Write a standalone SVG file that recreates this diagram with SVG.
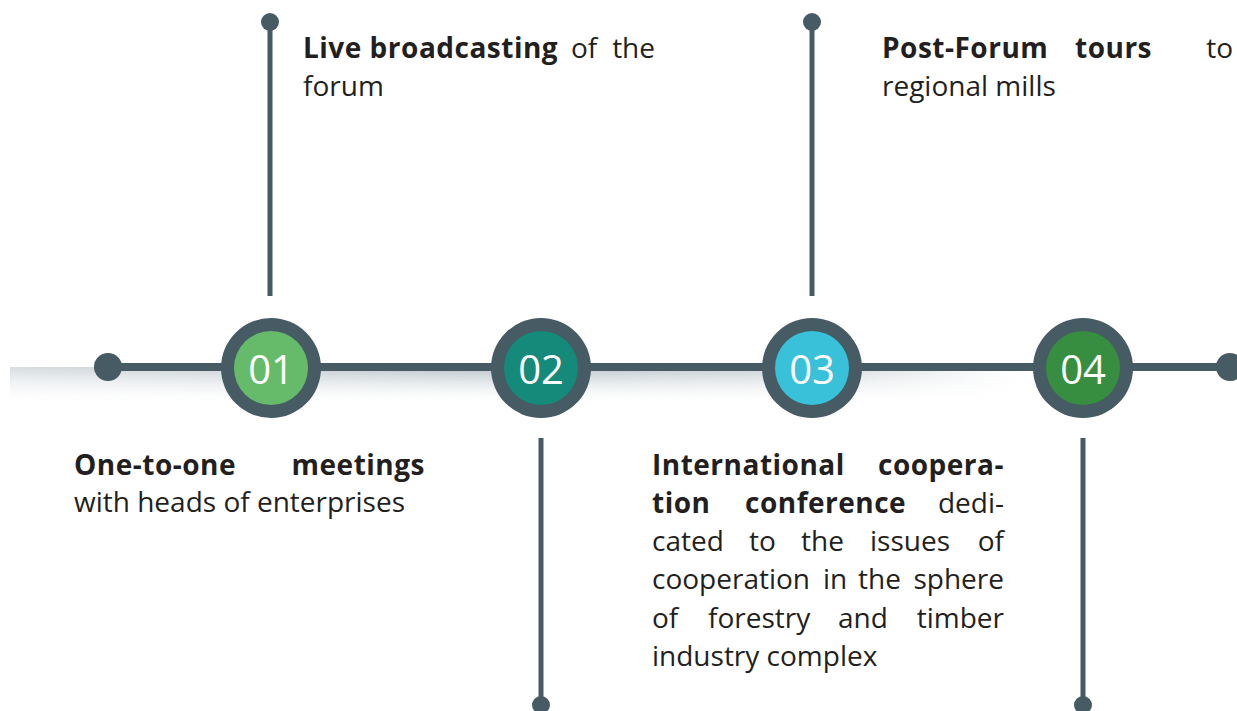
<svg xmlns="http://www.w3.org/2000/svg" width="1237" height="711" viewBox="0 0 1237 711">
<defs>
<linearGradient id="shV" x1="0" y1="0" x2="0" y2="1">
<stop offset="0" stop-color="#b3bdc3" stop-opacity="0.95"/>
<stop offset="0.5" stop-color="#dde2e5" stop-opacity="0.6"/>
<stop offset="1" stop-color="#ffffff" stop-opacity="0"/>
</linearGradient>
<linearGradient id="shH" x1="0" y1="0" x2="1" y2="0">
<stop offset="0" stop-color="#fff" stop-opacity="0.55"/>
<stop offset="0.5" stop-color="#fff" stop-opacity="1"/>
<stop offset="0.8" stop-color="#fff" stop-opacity="0.7"/>
<stop offset="1" stop-color="#fff" stop-opacity="0"/>
</linearGradient>
<mask id="shM"><rect x="10" y="360" width="1010" height="50" fill="url(#shH)"/></mask>
<style>
.ln{stroke:#465b64;fill:none}
.dot{fill:#465b64}
.ring{fill:#465b64}
.num{font-family:"Open Sans","Noto Sans",sans-serif;font-weight:400;font-size:40px;fill:#fff;text-anchor:middle}
.t{font-family:"Open Sans","Noto Sans",sans-serif;font-size:28px;fill:#231f20}
.b{font-weight:bold;letter-spacing:0.5px}
.e{text-anchor:end}
</style>
</defs>
<rect width="1237" height="711" fill="#fff"/>
<rect x="10" y="367" width="1010" height="38" fill="url(#shV)" mask="url(#shM)"/>
<g id="connectors">
<line class="ln" x1="108" y1="367" x2="1230" y2="367" stroke-width="8"/>
<circle class="dot" cx="108" cy="367" r="14"/>
<circle class="dot" cx="1230" cy="367" r="14"/>
<line class="ln" x1="270" y1="22" x2="270" y2="296" stroke-width="5"/>
<circle class="dot" cx="270" cy="22" r="9"/>
<line class="ln" x1="812" y1="22" x2="812" y2="296" stroke-width="5"/>
<circle class="dot" cx="812" cy="22" r="9"/>
<line class="ln" x1="541" y1="438" x2="541" y2="705" stroke-width="5"/>
<circle class="dot" cx="541" cy="705" r="9"/>
<line class="ln" x1="1083" y1="438" x2="1083" y2="705" stroke-width="5"/>
<circle class="dot" cx="1083" cy="705" r="9"/>
</g>
<g id="node01">
<circle class="ring" cx="271" cy="368" r="50"/>
<circle cx="271" cy="368" r="37" fill="#66bb6a"/>
<text class="num" x="271" y="384">01</text>
</g>
<g id="node02">
<circle class="ring" cx="541" cy="368" r="50"/>
<circle cx="541" cy="368" r="37" fill="#158a7a"/>
<text class="num" x="541" y="384">02</text>
</g>
<g id="node03">
<circle class="ring" cx="812" cy="368" r="50"/>
<circle cx="812" cy="368" r="37" fill="#38c1d8"/>
<text class="num" x="812" y="384">03</text>
</g>
<g id="node04">
<circle class="ring" cx="1083" cy="368" r="50"/>
<circle cx="1083" cy="368" r="37" fill="#378e41"/>
<text class="num" x="1083" y="384">04</text>
</g>
<g id="text-live">
<text class="t b" x="303" y="58">Live broadcasting</text>
<text class="t" x="571" y="58">of</text>
<text class="t e" x="655" y="58">the</text>
<text class="t" x="303" y="96">forum</text>
</g>
<g id="text-tours">
<text class="t b" x="882" y="58">Post-Forum</text>
<text class="t b" x="1075" y="58">tours</text>
<text class="t e" x="1233" y="58">to</text>
<text class="t" x="882" y="96">regional mills</text>
</g>
<g id="text-meetings">
<text class="t b" x="74" y="475">One-to-one</text>
<text class="t b e" x="425" y="475">meetings</text>
<text class="t" x="74" y="512">with heads of enterprises</text>
</g>
<g id="text-conference">
<text class="t b" x="652" y="475">International</text>
<text class="t b e" x="1004" y="475">coopera-</text>
<text class="t b" x="652" y="513">tion</text>
<text class="t b" x="745" y="513">conference</text>
<text class="t e" x="1004" y="513">dedi-</text>
<text class="t" x="652" y="551">cated</text>
<text class="t" x="749" y="551">to</text>
<text class="t" x="801" y="551">the</text>
<text class="t" x="870" y="551">issues</text>
<text class="t e" x="1004" y="551">of</text>
<text class="t" x="652" y="589">cooperation</text>
<text class="t" x="823" y="589">in</text>
<text class="t" x="858" y="589">the</text>
<text class="t e" x="1004" y="589">sphere</text>
<text class="t" x="652" y="628">of</text>
<text class="t" x="708" y="628">forestry</text>
<text class="t" x="838" y="628">and</text>
<text class="t e" x="1004" y="628">timber</text>
<text class="t" x="652" y="666">industry complex</text>
</g>
</svg>
